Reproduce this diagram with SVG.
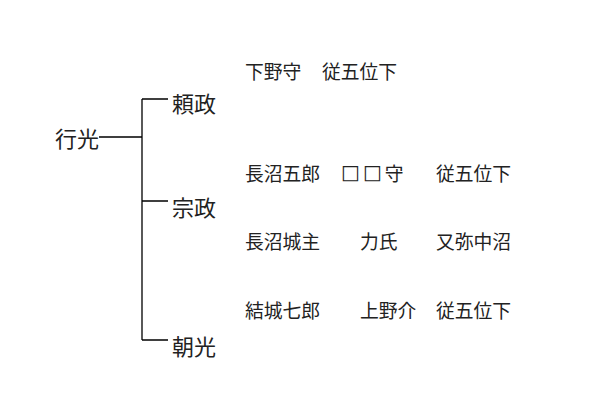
<svg xmlns="http://www.w3.org/2000/svg" width="595" height="408" viewBox="0 0 595 408">
<style>
text{font-family:"Noto Sans CJK JP","Noto Sans CJK SC",sans-serif;fill:#222;dominant-baseline:central}
.b{font-size:22px}
.s{font-size:18.8px}
.sq{font-family:"DejaVu Sans",sans-serif;font-size:20px;letter-spacing:3px}
.c{stroke:#000;stroke-width:1.3;fill:none}
</style>
<rect width="595" height="408" fill="#fff"/>
<g id="connectors">
<path class="c" d="M99 137H142M142 99V340M142 99H168M142 201H168M142 340H168"/>
</g>
<g id="n-yukimitsu"><text class="b" x="55" y="137">行光</text></g>
<g id="n-yorimasa"><text class="b" x="172" y="102">頼政</text></g>
<g id="n-munemasa"><text class="b" x="172" y="206">宗政</text></g>
<g id="n-tomomitsu"><text class="b" x="172" y="345">朝光</text></g>
<g id="notes">
<text class="s" x="245" y="70">下野守</text>
<text class="s" x="322" y="70">従五位下</text>
<text class="s" x="245" y="172">長沼五郎</text>
<text class="s" x="341" y="172"><tspan class="sq">□□</tspan>守</text>
<text class="s" x="436" y="172">従五位下</text>
<text class="s" x="245" y="240">長沼城主</text>
<text class="s" x="360" y="240">力氏</text>
<text class="s" x="436" y="240">又弥中沼</text>
<text class="s" x="245" y="309">結城七郎</text>
<text class="s" x="360" y="309">上野介</text>
<text class="s" x="436" y="309">従五位下</text>
</g>
</svg>
